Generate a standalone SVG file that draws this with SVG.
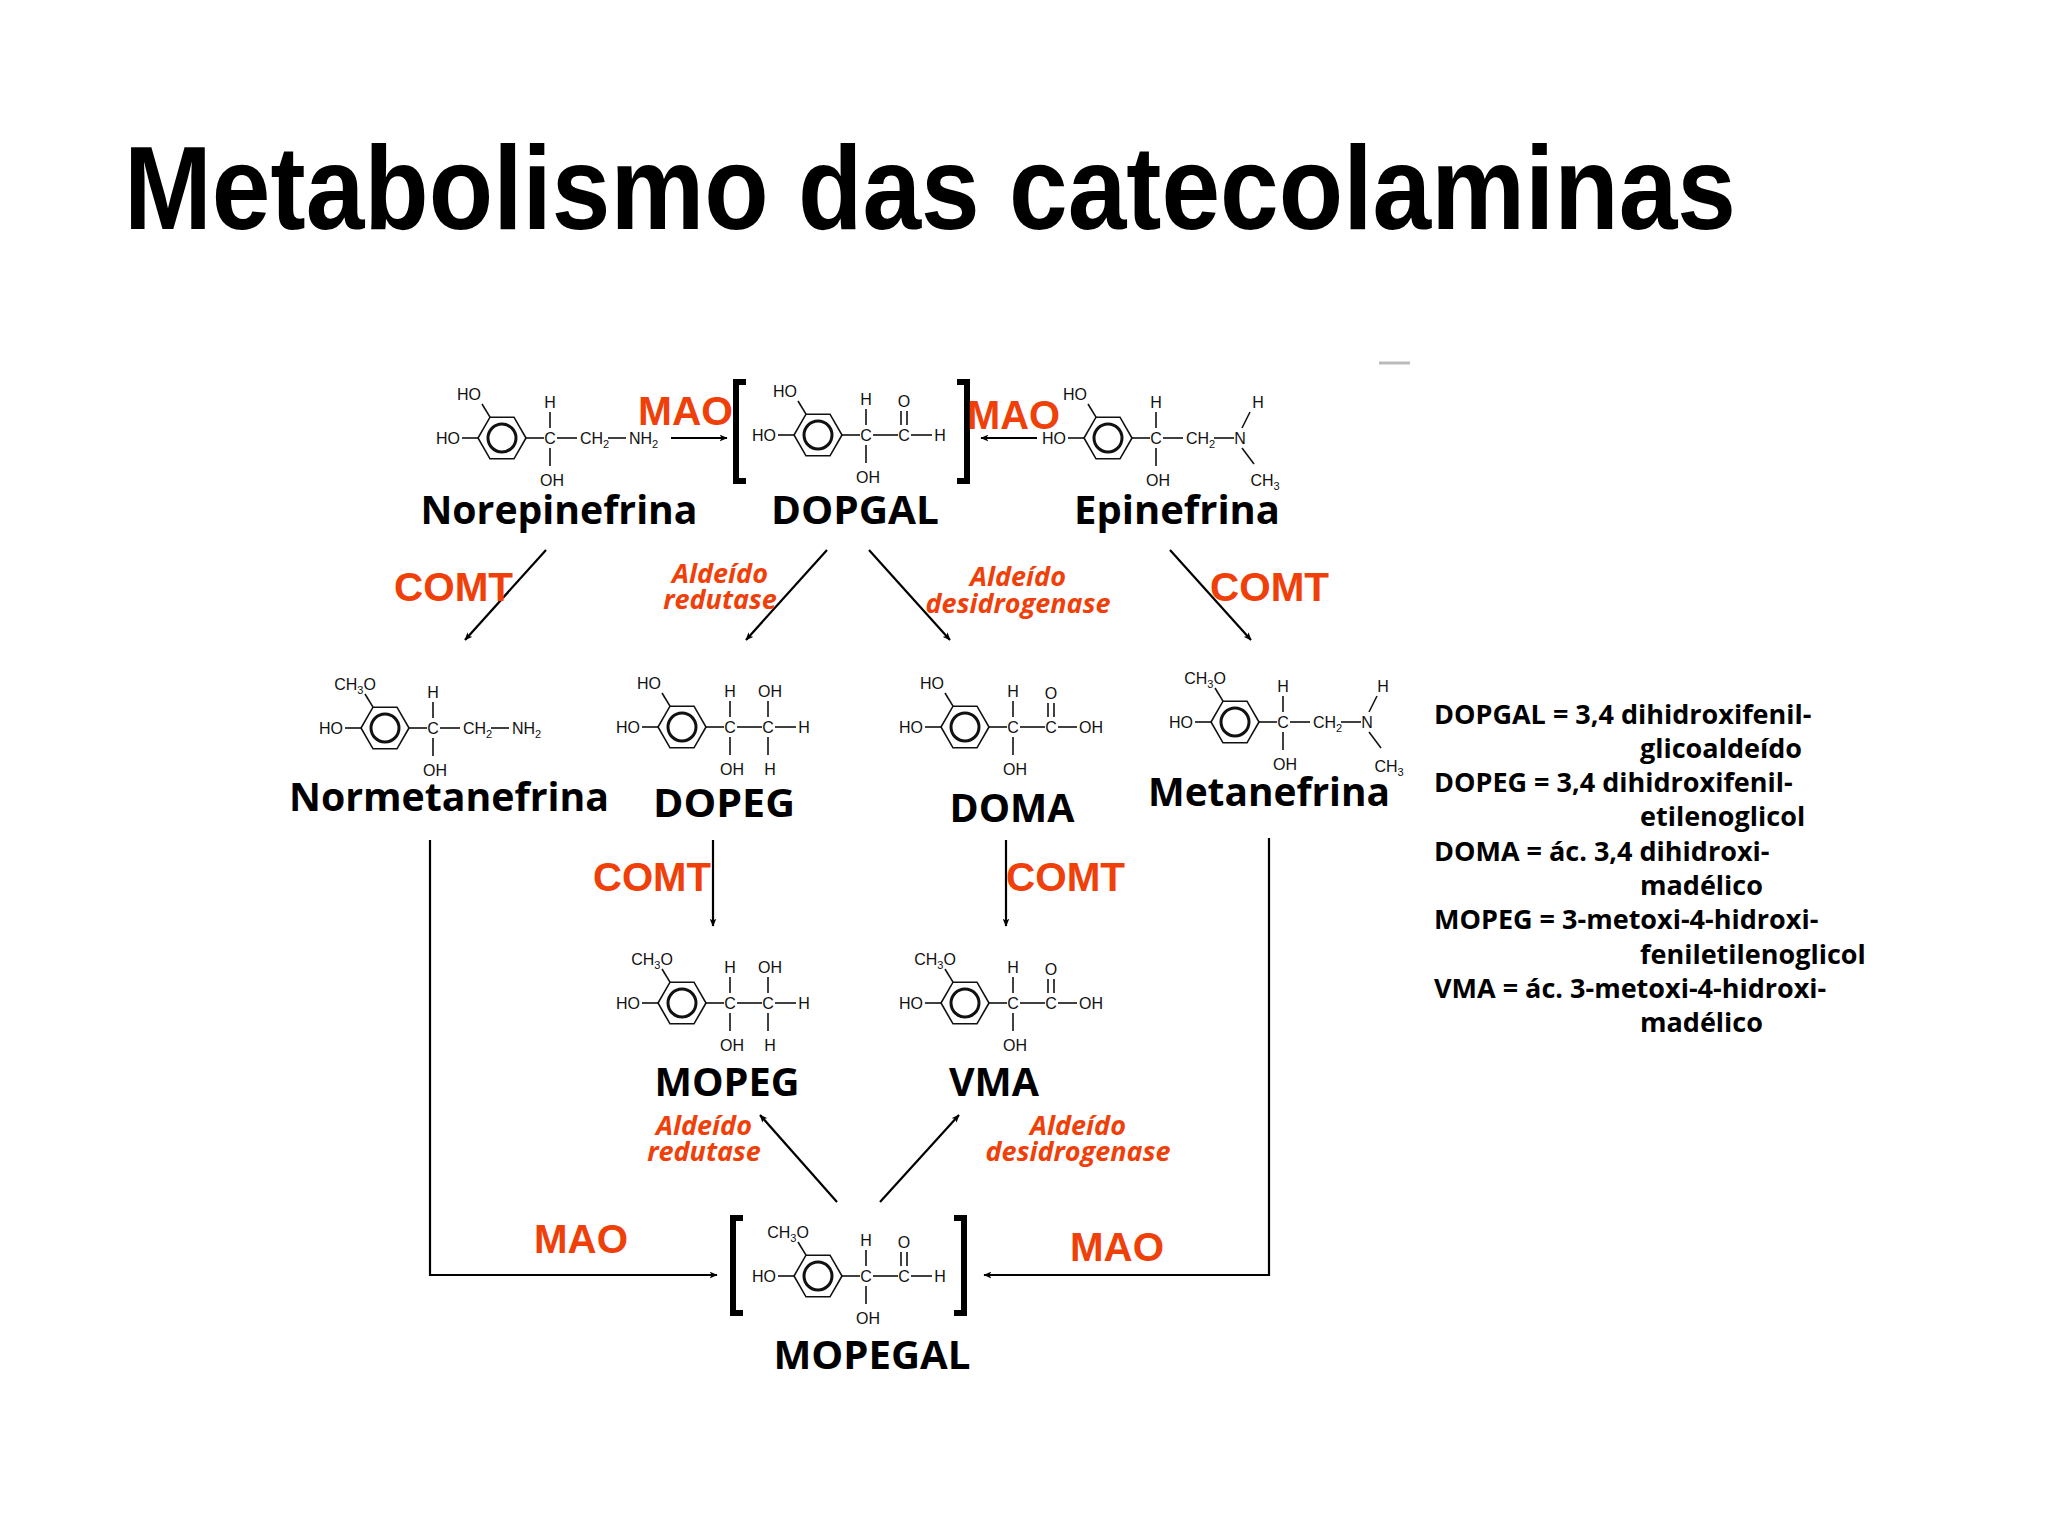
<svg xmlns="http://www.w3.org/2000/svg" width="2048" height="1536" viewBox="0 0 2048 1536">
<style>
.t{font-family:"Liberation Sans",Arial,sans-serif;font-weight:bold}
.m{font-family:"Liberation Sans",Arial,sans-serif;font-size:16px;fill:#111}
.mc{text-anchor:middle}
.b{stroke:#111;stroke-width:1.6;fill:none}
.nm{font-family:"Open Sans","DejaVu Sans",sans-serif;font-weight:bold;font-size:40px;fill:#000;text-anchor:middle}
.en{font-family:"Liberation Sans",Arial,sans-serif;font-weight:bold;font-size:40px;fill:#f0400a}
.ez{font-family:"Open Sans","DejaVu Sans",sans-serif;font-weight:bold;font-style:italic;font-size:27px;fill:#f0400a;text-anchor:middle}
.ar{stroke:#000;stroke-width:2.2;fill:none;marker-end:url(#ah)}
.br{stroke:#000;stroke-width:6;fill:none}
.lg{font-family:"Open Sans","DejaVu Sans",sans-serif;font-weight:bold;font-size:27px;fill:#000}
</style>
<defs>
<marker id="ah" viewBox="0 0 12 10" refX="11" refY="5" markerWidth="8" markerHeight="7" orient="auto" markerUnits="userSpaceOnUse">
<path d="M0,0 L12,5 L0,10 L3,5 z" fill="#000"/>
</marker>
<g id="ring">
<polygon points="24,0 12,20.8 -12,20.8 -24,0 -12,-20.8 12,-20.8" class="b"/>
<circle r="14" stroke="#111" stroke-width="3" fill="none"/>
<line x1="-24" y1="0" x2="-40" y2="0" class="b"/>
<text x="-42" y="6" class="m" text-anchor="end">HO</text>
<line x1="-12" y1="-20.8" x2="-20" y2="-34" class="b"/>
</g>
<g id="cat"><use href="#ring"/><text x="-33" y="-38" class="m mc">HO</text></g>
<g id="mcat"><use href="#ring"/><text x="-30" y="-38" class="m mc">CH<tspan font-size="11" dy="4">3</tspan><tspan dy="-4">O</tspan></text></g>
<g id="choh">
<line x1="24" y1="0" x2="42" y2="0" class="b"/>
<text x="48" y="6" class="m mc">C</text>
<text x="48" y="-30" class="m mc">H</text>
<line x1="48" y1="-26" x2="48" y2="-10" class="b"/>
<line x1="48" y1="10" x2="48" y2="28" class="b"/>
<text x="50" y="48" class="m mc">OH</text>
</g>
<g id="nh2">
<use href="#choh"/>
<line x1="55" y1="0" x2="75" y2="0" class="b"/>
<text x="78" y="6" class="m">CH<tspan font-size="11" dy="4">2</tspan></text>
<line x1="106" y1="0" x2="124" y2="0" class="b"/>
<text x="127" y="6" class="m">NH<tspan font-size="11" dy="4">2</tspan></text>
</g>
<g id="nme">
<use href="#choh"/>
<line x1="55" y1="0" x2="75" y2="0" class="b"/>
<text x="78" y="6" class="m">CH<tspan font-size="11" dy="4">2</tspan></text>
<line x1="106" y1="0" x2="126" y2="0" class="b"/>
<text x="132" y="6" class="m mc">N</text>
<line x1="134" y1="-10" x2="142" y2="-26" class="b"/>
<line x1="134" y1="10" x2="146" y2="26" class="b"/>
</g>
<g id="cho">
<use href="#choh"/>
<line x1="55" y1="0" x2="80" y2="0" class="b"/>
<text x="86" y="6" class="m mc">C</text>
<line x1="83" y1="-10" x2="83" y2="-24" class="b"/><line x1="89" y1="-10" x2="89" y2="-24" class="b"/>
<text x="86" y="-28" class="m mc">O</text>
</g>
<g id="diol">
<use href="#choh"/>
<line x1="55" y1="0" x2="80" y2="0" class="b"/>
<text x="86" y="6" class="m mc">C</text>
<text x="88" y="-30" class="m mc">OH</text>
<line x1="86" y1="-26" x2="86" y2="-10" class="b"/>
<line x1="86" y1="10" x2="86" y2="28" class="b"/>
<text x="88" y="48" class="m mc">H</text>
<line x1="93" y1="0" x2="114" y2="0" class="b"/>
<text x="122" y="6" class="m mc">H</text>
</g>
</defs>
<rect width="2048" height="1536" fill="#fff"/>
<text x="124" y="229" class="t" font-size="118" textLength="1612" lengthAdjust="spacingAndGlyphs">Metabolismo das catecolaminas</text>
<line x1="1379" y1="363" x2="1410" y2="363" stroke="#bbb" stroke-width="3"/>
<g transform="translate(-6,-7)">
<g id="norepinefrina" transform="translate(508,445)">
<use href="#cat"/><use href="#nh2"/>
<text x="57" y="86" class="nm" textLength="277" lengthAdjust="spacingAndGlyphs">Norepinefrina</text>
</g>
<g id="dopgal" transform="translate(824,442)">
<use href="#cat"/><use href="#cho"/>
<line x1="93" y1="0" x2="114" y2="0" class="b"/><text x="122" y="6" class="m mc">H</text>
<path d="M-72,-53 H-82 V46 H-72" class="br"/>
<path d="M139,-53 H149 V46 H139" class="br"/>
<text x="37" y="89" class="nm" textLength="168" lengthAdjust="spacingAndGlyphs">DOPGAL</text>
</g>
<g id="epinefrina" transform="translate(1114,445)">
<use href="#cat"/><use href="#nme"/>
<text x="150" y="-30" class="m mc">H</text>
<text x="157" y="48" class="m mc">CH<tspan font-size="11" dy="4">3</tspan></text>
<text x="69" y="86" class="nm" textLength="206" lengthAdjust="spacingAndGlyphs">Epinefrina</text>
</g>
<g id="normetanefrina" transform="translate(391,735)">
<use href="#mcat"/><use href="#nh2"/>
<text x="64" y="83" class="nm" textLength="320" lengthAdjust="spacingAndGlyphs">Normetanefrina</text>
</g>
<g id="dopeg" transform="translate(688,734)">
<use href="#cat"/><use href="#diol"/>
<text x="42" y="90" class="nm" textLength="142" lengthAdjust="spacingAndGlyphs">DOPEG</text>
</g>
<g id="doma" transform="translate(971,734)">
<use href="#cat"/><use href="#cho"/>
<line x1="93" y1="0" x2="112" y2="0" class="b"/><text x="114" y="6" class="m">OH</text>
<text x="47" y="95" class="nm" textLength="125" lengthAdjust="spacingAndGlyphs">DOMA</text>
</g>
<g id="metanefrina" transform="translate(1241,729)">
<use href="#mcat"/><use href="#nme"/>
<text x="148" y="-30" class="m mc">H</text>
<text x="154" y="50" class="m mc">CH<tspan font-size="11" dy="4">3</tspan></text>
<text x="34" y="84" class="nm" textLength="242" lengthAdjust="spacingAndGlyphs">Metanefrina</text>
</g>
<g id="mopeg" transform="translate(688,1010)">
<use href="#mcat"/><use href="#diol"/>
<text x="45" y="93" class="nm" textLength="145" lengthAdjust="spacingAndGlyphs">MOPEG</text>
</g>
<g id="vma" transform="translate(971,1010)">
<use href="#mcat"/><use href="#cho"/>
<line x1="93" y1="0" x2="112" y2="0" class="b"/><text x="114" y="6" class="m">OH</text>
<text x="29" y="93" class="nm" textLength="90" lengthAdjust="spacingAndGlyphs">VMA</text>
</g>
<g id="mopegal" transform="translate(824,1283)">
<use href="#mcat"/><use href="#cho"/>
<line x1="93" y1="0" x2="114" y2="0" class="b"/><text x="122" y="6" class="m mc">H</text>
<path d="M-75,-58 H-85 V37 H-75" class="br"/>
<path d="M136,-58 H146 V37 H136" class="br"/>
<text x="54" y="93" class="nm" textLength="197" lengthAdjust="spacingAndGlyphs">MOPEGAL</text>
</g>

<g id="connectors">
<line x1="677" y1="445" x2="733" y2="445" class="ar"/>
<line x1="1043" y1="445" x2="987" y2="445" class="ar"/>
<line x1="552" y1="557" x2="471" y2="647" class="ar"/>
<line x1="833" y1="557" x2="752" y2="647" class="ar"/>
<line x1="875" y1="557" x2="956" y2="647" class="ar"/>
<line x1="1176" y1="557" x2="1257" y2="647" class="ar"/>
<line x1="719" y1="847" x2="719" y2="933" class="ar"/>
<line x1="1012" y1="847" x2="1012" y2="933" class="ar"/>
<line x1="843" y1="1209" x2="766" y2="1122" class="ar"/>
<line x1="886" y1="1209" x2="965" y2="1122" class="ar"/>
<polyline points="436,847 436,1282 723,1282" class="ar"/>
<polyline points="1275,845 1275,1282 990,1282" class="ar"/>
</g>
<g id="labels">
<text x="644" y="432" class="en" textLength="95" lengthAdjust="spacingAndGlyphs">MAO</text>
<text x="973" y="436" class="en" textLength="93" lengthAdjust="spacingAndGlyphs">MAO</text>
<text x="400" y="608" class="en" textLength="119" lengthAdjust="spacingAndGlyphs">COMT</text>
<text x="1216" y="608" class="en" textLength="119" lengthAdjust="spacingAndGlyphs">COMT</text>
<text x="599" y="898" class="en" textLength="118" lengthAdjust="spacingAndGlyphs">COMT</text>
<text x="1012" y="898" class="en" textLength="119" lengthAdjust="spacingAndGlyphs">COMT</text>
<text x="540" y="1260" class="en" textLength="94" lengthAdjust="spacingAndGlyphs">MAO</text>
<text x="1076" y="1268" class="en" textLength="94" lengthAdjust="spacingAndGlyphs">MAO</text>
<text x="726" y="590" class="ez">Aldeído</text><text x="726" y="616" class="ez">redutase</text>
<text x="1024" y="593" class="ez">Aldeído</text><text x="1024" y="620" class="ez">desidrogenase</text>
<text x="710" y="1142" class="ez">Aldeído</text><text x="710" y="1168" class="ez">redutase</text>
<text x="1084" y="1142" class="ez">Aldeído</text><text x="1084" y="1168" class="ez">desidrogenase</text>
</g>
</g>
<g id="legend" class="lg">
<text x="1434" y="724">DOPGAL = 3,4 dihidroxifenil-</text>
<text x="1640" y="758">glicoaldeído</text>
<text x="1434" y="792">DOPEG = 3,4 dihidroxifenil-</text>
<text x="1640" y="826">etilenoglicol</text>
<text x="1434" y="861">DOMA = ác. 3,4 dihidroxi-</text>
<text x="1640" y="895">madélico</text>
<text x="1434" y="929">MOPEG = 3-metoxi-4-hidroxi-</text>
<text x="1640" y="964">feniletilenoglicol</text>
<text x="1434" y="998">VMA = ác. 3-metoxi-4-hidroxi-</text>
<text x="1640" y="1032">madélico</text>
</g>
</svg>
